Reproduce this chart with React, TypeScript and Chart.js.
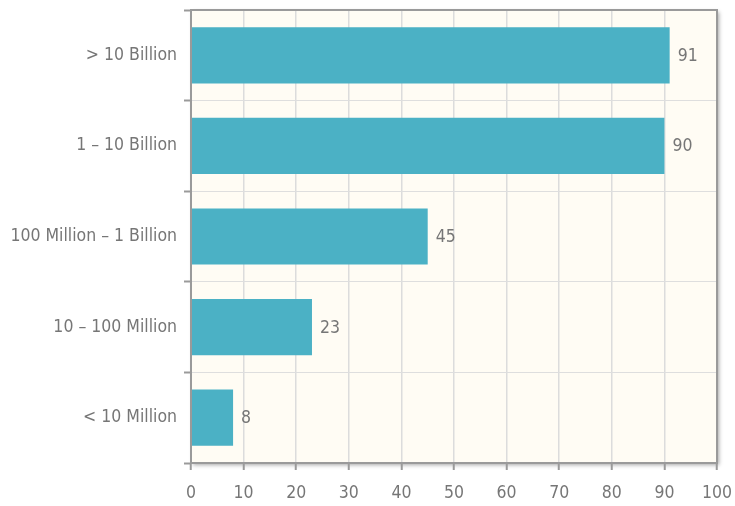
import React, { useEffect, useRef } from "react";
import { Chart, registerables } from "chart.js";

Chart.register(...registerables);

const categories = ["> 10 Billion", "1 – 10 Billion", "100 Million – 1 Billion", "10 – 100 Million", "< 10 Million"];
const values = [91, 90, 45, 23, 8];
const xTicks = [0, 10, 20, 30, 40, 50, 60, 70, 80, 90, 100];

const FONT = "'Liberation Sans Narrow', 'DejaVu Sans Condensed', 'Roboto Condensed', sans-serif";
const TEXT = "#767676";
const FS = 17.5;

const frame = {
  id: "frame",
  beforeDraw(chart: any) {
    const { ctx, chartArea: a } = chart;
    ctx.save();
    ctx.shadowColor = "rgba(0,0,0,0.35)";
    ctx.shadowBlur = 4;
    ctx.shadowOffsetX = 2;
    ctx.shadowOffsetY = 2;
    ctx.fillStyle = "#fffcf4";
    ctx.fillRect(a.left, a.top, a.right - a.left, a.bottom - a.top);
    ctx.restore();
  },
  afterDraw(chart: any) {
    const { ctx, chartArea: a } = chart;
    ctx.save();
    ctx.strokeStyle = "#9a9a9a";
    ctx.lineWidth = 2;
    ctx.strokeRect(a.left, a.top, a.right - a.left, a.bottom - a.top);
    ctx.restore();
  },
};

const labels = {
  id: "valueLabels",
  afterDatasetsDraw(chart: any) {
    const { ctx } = chart;
    const meta = chart.getDatasetMeta(0);
    ctx.save();
    ctx.fillStyle = TEXT;
    ctx.font = `${FS}px ${FONT}`;
    ctx.textAlign = "left";
    ctx.textBaseline = "middle";
    meta.data.forEach((bar: any, i: number) => {
      ctx.fillText(String(values[i]), bar.x + 8, bar.y + 1);
    });
    ctx.restore();
  },
};

export default function App() {
  const ref = useRef<HTMLCanvasElement>(null);
  useEffect(() => {
    document.body.style.margin = "0";
    const chart = new Chart(ref.current!, {
      type: "bar",
      data: {
        labels: categories,
        datasets: [
          {
            data: values,
            backgroundColor: "#4bb1c5",
            borderWidth: 0,
            barPercentage: 0.62,
            categoryPercentage: 1,
          },
        ],
      },
      options: {
        indexAxis: "y",
        animation: false,
        responsive: false,
        layout: { padding: { top: 10, right: 18, left: 0, bottom: 0 } },
        plugins: { legend: { display: false }, tooltip: { enabled: false } },
        scales: {
          x: {
            min: 0,
            max: 100,
            afterBuildTicks: (s: any) => {
              s.ticks = xTicks.map((v) => ({ value: v }));
            },
            afterFit: (s: any) => {
              s.height = 43;
              s.paddingRight = 0;
              s.paddingLeft = 0;
            },
            grid: { color: "#dcdcdc", lineWidth: 1.5, tickLength: 7, tickColor: "#9a9a9a", tickWidth: 2 },
            border: { display: false },
            ticks: { color: TEXT, font: { family: FONT, size: FS }, padding: 13 },
          },
          y: {
            afterFit: (s: any) => {
              s.width = 191;
              s.paddingTop = 0;
              s.paddingBottom = 0;
            },
            grid: { offset: true, color: "#dedede", lineWidth: 1, tickLength: 7, tickColor: "#9a9a9a", tickWidth: 2 },
            border: { display: false },
            ticks: { color: TEXT, font: { family: FONT, size: FS }, padding: 7 },
          },
        },
      },
      plugins: [frame, labels],
    });
    return () => chart.destroy();
  }, []);
  return <canvas ref={ref} width={735} height={506} style={{ display: "block" }} />;
}
